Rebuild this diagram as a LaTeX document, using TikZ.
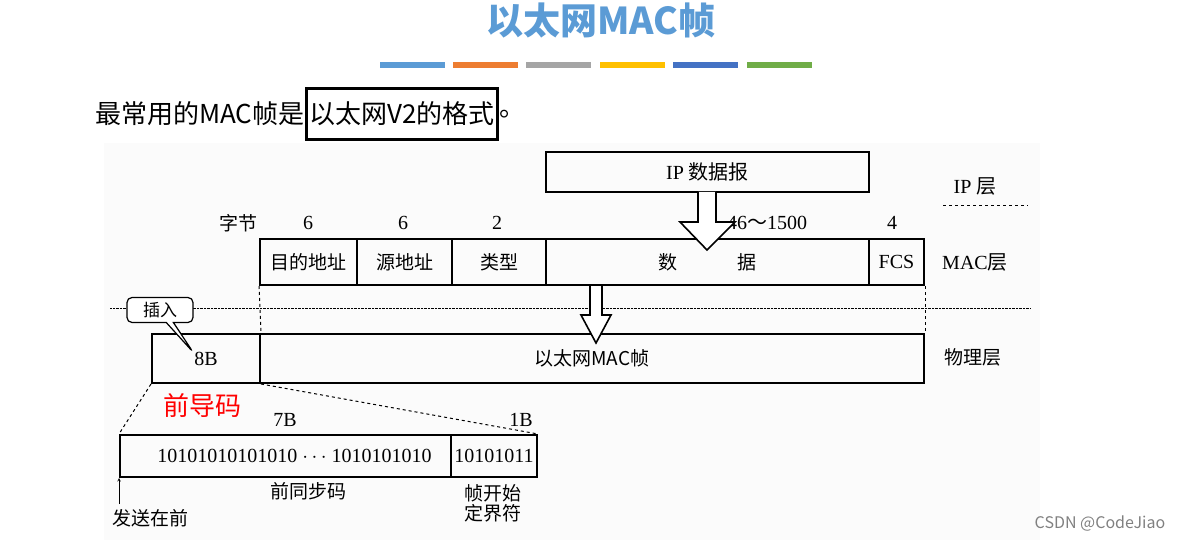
\documentclass[tikz,border=0pt]{standalone}
\usepackage{fontspec}
\setmainfont{Liberation Serif}
\newfontfamily\cjk{Noto Sans CJK SC}
\usetikzlibrary{shapes.callouts}
\definecolor{titleblue}{HTML}{5B9BD5}
\tikzset{
  field/.style={draw,line width=2pt,minimum height=46pt,inner sep=0pt,anchor=north west},
  lbl/.style={font=\fontsize{20}{23}\selectfont},
  clbl/.style={font=\fontsize{19}{23}\selectfont\cjk},
  hollow/.style={draw,line width=1.6pt,fill=white},
  guide/.style={line width=1pt,dashed}
}
\begin{document}
\begin{tikzpicture}[x=1pt,y=-1pt]
\useasboundingbox (0,0) rectangle (1188,545);
\fill[gray!3] (104,143) rectangle (1040,540);
% title
\node[font=\fontsize{37}{40}\selectfont\cjk\bfseries,text=titleblue] (title) at (601,20) {以太网MAC帧};
\foreach \xa/\c in {380/5B9BD5,453/ED7D31,526/A5A5A5,600/FFC000,673/4472C4,747/70AD47}{
  \definecolor{barcol}{HTML}{\c}
  \fill[barcol] (\xa,62) rectangle ++(65,6);
}
\node[anchor=west,font=\fontsize{26}{28}\selectfont\cjk,inner sep=0pt] (intro) at (95,114) {最常用的MAC帧是};
\node[anchor=west,draw,line width=3pt,font=\fontsize{26}{28}\selectfont\cjk,inner xsep=3pt,minimum height=51pt] (v2) at (intro.east) {以太网V2的格式};
\node[anchor=west,font=\fontsize{26}{28}\selectfont\cjk,inner sep=0pt] (stop) at (v2.east) {。};
% IP layer
\node[field,minimum width=323pt,minimum height=40pt,lbl] (ip) at (545,151) {IP {\cjk 数据报}};
\node[lbl] (iplayer) at (975,186) {IP {\cjk 层}};
\draw[guide] (943,206) -- (1028,206);
% byte counts
\node[clbl] (bytes) at (238,223) {字节};
\node[lbl] (n1) at (308,223) {6};
\node[lbl] (n2) at (403,223) {6};
\node[lbl] (n3) at (497,223) {2};
\node[lbl] (n4) at (767,223) {46{\cjk ～}1500};
\node[lbl] (n5) at (892,223) {4};
% MAC frame
\node[field,minimum width=97pt,clbl] (dst) at (259,238) {目的地址};
\node[field,minimum width=95pt,clbl] (src) at (356,238) {源地址};
\node[field,minimum width=94pt,clbl] (type) at (451,238) {类型};
\node[field,minimum width=323pt,clbl] (data) at (545,238) {数\hspace{60pt}据};
\node[field,minimum width=55pt,lbl] (fcs) at (868,238) {FCS};
\node[lbl] (maclayer) at (975,262) {MAC{\cjk 层}};
\draw[hollow] (698,192) -- (698,222) -- (680,222) -- (707,250) -- (735,222) -- (716,222) -- (716,192);
% physical layer
\draw[densely dotted] (110,308) -- (1030,308);
\node[field,minimum width=108pt,minimum height=49pt,lbl] (pre) at (151,333) {8B};
\node[field,minimum width=664pt,minimum height=49pt,clbl] (frame) at (259,333) {以太网MAC帧};
\node[clbl] (phys) at (973,357) {物理层};
\draw[hollow] (590,286) -- (590,315) -- (581,315) -- (596,343) -- (611,315) -- (602,315) -- (602,286);
\draw[guide] (dst.south west) -- (pre.north east);
\draw[guide] (fcs.south east) -- (frame.north east);
\node[rectangle callout,rounded corners=5pt,draw,line width=1.2pt,fill=white,minimum width=66pt,minimum height=25pt,
  font=\fontsize{17}{19}\selectfont\cjk,callout absolute pointer={(193,352)}] (insert) at (160,310) {插入};
% preamble detail
\node[text=red,font=\fontsize{26}{28}\selectfont\cjk] (prename) at (202,406) {前导码};
\node[lbl] (b7) at (285,420) {7B};
\node[lbl] (b1) at (521,420) {1B};
\node[field,minimum width=331pt,minimum height=42pt,lbl] (sync) at (119,434) {\hspace{18pt}10101010101010 $\cdots$ 1010101010};
\node[field,minimum width=86pt,minimum height=42pt,lbl] (sfd) at (450,434) {10101011};
\draw[guide] (pre.south west) -- (sync.north west);
\draw[guide] (pre.south east) -- (sfd.north east);
\node[clbl] (synclbl) at (308,491) {前同步码};
\node[clbl,align=center] (sfdlbl) at (493,503) {帧开始\\[-3pt]定界符};
\coordinate (sendtail) at (119,504);
\draw[-stealth,semithick] (sendtail) -- (sync.south west);
\node[clbl] (send) at (150,518) {发送在前};
\node[text=gray,font=\fontsize{16}{18}\selectfont\cjk] (mark) at (1100,524) {CSDN @CodeJiao};
\end{tikzpicture}
\end{document}
